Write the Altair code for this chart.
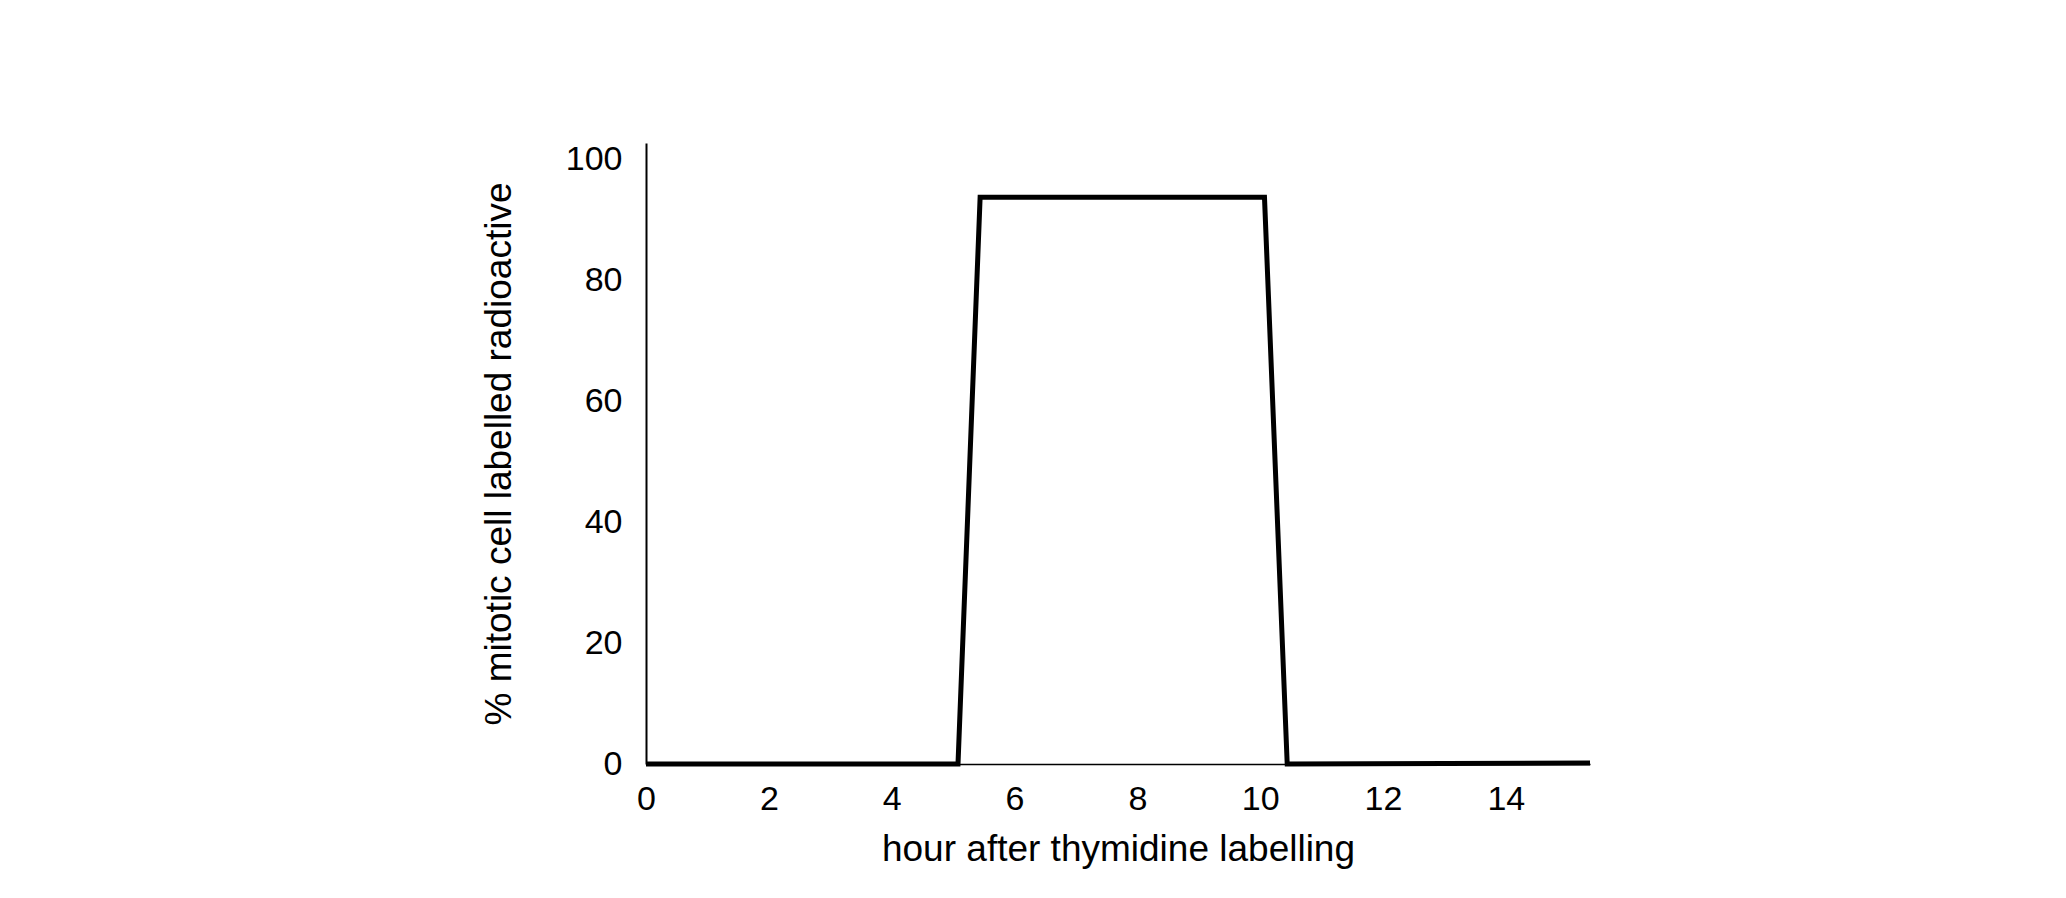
import altair as alt
import pandas as pd

hours = [0, 5.08, 5.44, 10.07, 10.44, 15.37]
pct_labelled = [0, 0, 93.8, 93.8, 0, 0.15]
x_ticks = [0, 2, 4, 6, 8, 10, 12, 14]
y_ticks = [0, 20, 40, 60, 80, 100]

df = pd.DataFrame({"hour": hours, "pct": pct_labelled, "order": list(range(len(hours)))})

FONT = "Liberation Sans"

chart = alt.Chart(df).mark_line(
    color="black", strokeWidth=5, strokeJoin="miter", strokeCap="butt", clip=False
).encode(
    x=alt.X("hour:Q",
            scale=alt.Scale(domain=[0, 15.37], nice=False, zero=False),
            axis=alt.Axis(title="hour after thymidine labelling", values=x_ticks,
                          grid=False, ticks=False, tickSize=0, labelPadding=18,
                          labelFlush=False,
                          labelFontSize=34, titleFontSize=37, titlePadding=15,
                          labelFont=FONT, titleFont=FONT, titleFontWeight="normal",
                          labelColor="black", titleColor="black",
                          domainColor="black", domainWidth=1.5, format="d")),
    y=alt.Y("pct:Q",
            scale=alt.Scale(domain=[0, 102.8], nice=False),
            axis=alt.Axis(title="% mitotic cell labelled radioactive", values=y_ticks,
                          grid=False, ticks=False, tickSize=0, labelPadding=24,
                          labelFlush=False,
                          labelFontSize=34, titleFontSize=37, titlePadding=47,
                          labelFont=FONT, titleFont=FONT, titleFontWeight="normal",
                          labelColor="black", titleColor="black",
                          domainColor="black", domainWidth=2, format="d")),
    order="order:O",
).properties(
    width=944,
    height=621,
    background="white",
    padding={"left": 638, "top": 135, "right": 460, "bottom": 120},
    autosize=alt.AutoSizeParams(type="none"),
).configure_view(
    stroke=None
)

chart.save("out.html", embed_options={"renderer": "svg", "actions": False})
